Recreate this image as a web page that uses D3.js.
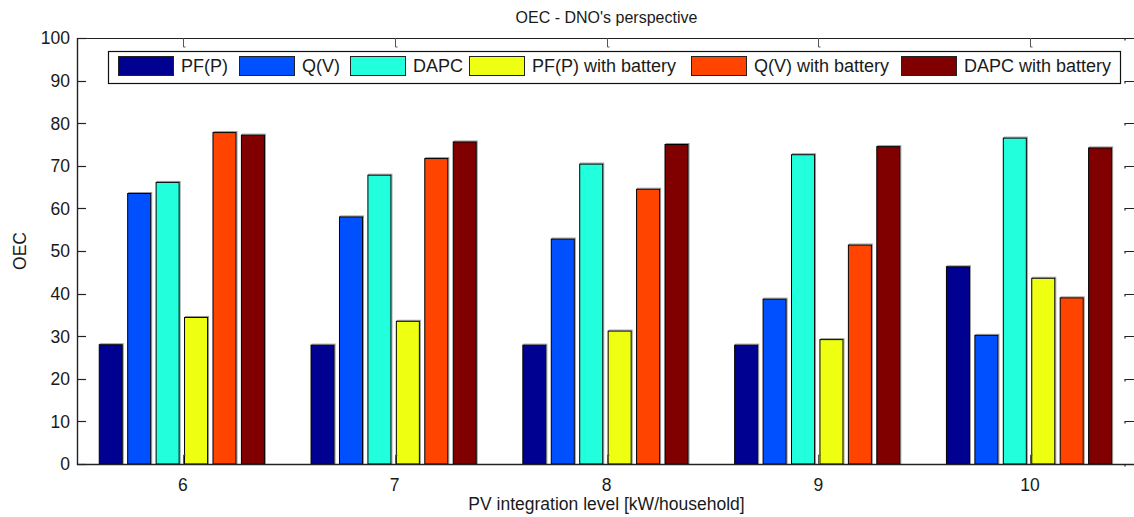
<!DOCTYPE html>
<html>
<head>
<meta charset="utf-8">
<script src="https://cdn.jsdelivr.net/npm/d3@7"></script>
<style>
  html, body { margin: 0; padding: 0; background: #fff; }
  svg { display: block; font-family: "Liberation Sans", Arial, sans-serif; }
</style>
</head>
<body>
<svg id="chart" width="1134" height="517"></svg>
<script>
// PV integration levels (kW/household)
const categories = [6, 7, 8, 9, 10];

// Series names and their OEC values per integration level
const seriesNames = ["PF(P)", "Q(V)", "DAPC", "PF(P) with battery", "Q(V) with battery", "DAPC with battery"];
const pfP        = [28.0, 27.9, 27.9, 27.9, 46.3];
const qV         = [63.5, 58.0, 52.8, 38.7, 30.2];
const dapc       = [66.1, 67.8, 70.4, 72.6, 76.5];
const pfPBatt    = [34.4, 33.5, 31.2, 29.2, 43.6];
const qVBatt     = [77.8, 71.7, 64.5, 51.4, 39.0];
const dapcBatt   = [77.2, 75.6, 75.0, 74.5, 74.2];
const seriesValues = [pfP, qV, dapc, pfPBatt, qVBatt, dapcBatt];
const seriesColors = ["#000091", "#0050ff", "#22ffdd", "#eeff11", "#ff4400", "#800000"];

const yTicks = [0, 10, 20, 30, 40, 50, 60, 70, 80, 90, 100];

const svg = d3.select("#chart");
const plot = { left: 77, right: 1136, top: 38, bottom: 464 };

const x = d3.scaleLinear().domain([5.5, 10.5]).range([plot.left, plot.right]);
const y = d3.scaleLinear().domain([0, 100]).range([plot.bottom, plot.top]);

const unit = x(1) - x(0);
const inner = d3.scaleBand()
  .domain(seriesNames)
  .range([-0.395 * unit, 0.385 * unit])
  .paddingInner(0.19)
  .paddingOuter(0);

const textColor = "#1a1a1a";

// Bars
const rows = [];
seriesNames.forEach((name, si) => {
  categories.forEach((c, ci) => {
    rows.push({ name, color: seriesColors[si], cat: c, value: seriesValues[si][ci] });
  });
});

const barG = svg.append("g");
// soft grey shading along the top and right edges
barG.selectAll("rect.shade").data(rows).enter().append("rect")
  .attr("class", "shade")
  .attr("x", d => x(d.cat) + inner(d.name) + 1)
  .attr("y", d => y(d.value) - 1)
  .attr("width", inner.bandwidth())
  .attr("height", d => y(0) - y(d.value) + 1)
  .attr("fill", "none")
  .attr("stroke", "#9a9a9a")
  .attr("stroke-width", 1);

barG.selectAll("rect.bar").data(rows).enter().append("rect")
  .attr("class", "bar")
  .attr("x", d => x(d.cat) + inner(d.name))
  .attr("y", d => y(d.value))
  .attr("width", inner.bandwidth())
  .attr("height", d => y(0) - y(d.value))
  .attr("fill", d => d.color)
  .attr("stroke", "#000")
  .attr("stroke-width", 1);

// Axes box
const axisG = svg.append("g").attr("stroke", "#222").attr("fill", "none");
axisG.append("line").attr("x1", plot.left).attr("x2", plot.right).attr("y1", plot.top + 0.5).attr("y2", plot.top + 0.5).attr("stroke-width", 1.2);
axisG.append("line").attr("x1", plot.left).attr("x2", plot.right).attr("y1", plot.bottom + 0.5).attr("y2", plot.bottom + 0.5).attr("stroke-width", 1.4);
axisG.append("line").attr("x1", plot.left + 0.5).attr("x2", plot.left + 0.5).attr("y1", plot.top).attr("y2", plot.bottom + 1).attr("stroke-width", 1.4);

const tickLen = 9;
// y ticks, inward on left and right
yTicks.forEach(t => {
  const yy = Math.round(y(t)) + 0.5;
  axisG.append("path").attr("d", `M${plot.left},${yy}H${plot.left + tickLen}`).attr("stroke-width", 1.2);
  axisG.append("path").attr("d", `M${plot.right - 11},${yy + 2}V${yy}H${plot.right}`).attr("stroke-width", 1.2);
});
// x ticks, inward on bottom and top
categories.forEach(c => {
  const xx = Math.round(x(c)) + 0.5;
  axisG.append("path").attr("d", `M${xx},${plot.bottom}V${plot.bottom - tickLen}h2`).attr("stroke", "#555").attr("stroke-width", 1);
  axisG.append("path").attr("d", `M${xx},${plot.top}V${plot.top + tickLen}h2`).attr("stroke", "#555").attr("stroke-width", 1);
});

// Tick labels
svg.append("g").selectAll("text").data(yTicks).enter().append("text")
  .attr("x", plot.left - 7)
  .attr("y", d => y(d))
  .attr("dy", "0.36em")
  .attr("text-anchor", "end")
  .attr("font-size", 17.5)
  .attr("fill", textColor)
  .text(d => d);

svg.append("g").selectAll("text").data(categories).enter().append("text")
  .attr("x", d => x(d))
  .attr("y", plot.bottom + 27)
  .attr("text-anchor", "middle")
  .attr("font-size", 17.5)
  .attr("fill", textColor)
  .text(d => d);

// Title and axis labels
svg.append("text")
  .attr("x", (plot.left + plot.right) / 2)
  .attr("y", 23)
  .attr("text-anchor", "middle")
  .attr("font-size", 16)
  .attr("fill", textColor)
  .text("OEC - DNO's perspective");

svg.append("text")
  .attr("x", (plot.left + plot.right) / 2)
  .attr("y", 510)
  .attr("text-anchor", "middle")
  .attr("font-size", 17.5)
  .attr("fill", textColor)
  .text("PV integration level [kW/household]");

svg.append("text")
  .attr("transform", `translate(26,${(plot.top + plot.bottom) / 2}) rotate(-90)`)
  .attr("text-anchor", "middle")
  .attr("font-size", 17.5)
  .attr("fill", textColor)
  .text("OEC");

// Legend
const legend = { x: 108, y: 51, w: 1012, h: 32 };
const legG = svg.append("g");
legG.append("rect")
  .attr("x", legend.x + 0.5).attr("y", legend.y + 0.5)
  .attr("width", legend.w).attr("height", legend.h)
  .attr("fill", "#fff").attr("stroke", "#111").attr("stroke-width", 1.2);

const legendX = [118, 239, 350, 469, 691, 901];
const items = legG.selectAll("g.item").data(seriesNames).enter().append("g")
  .attr("transform", (d, i) => `translate(${legendX[i]},${legend.y + 5})`);
items.append("rect")
  .attr("x", 0.5).attr("y", 0.5)
  .attr("width", 55).attr("height", 19)
  .attr("fill", (d, i) => seriesColors[i])
  .attr("stroke", "#222").attr("stroke-width", 1);
items.append("text")
  .attr("x", 63).attr("y", 10)
  .attr("dy", "0.36em")
  .attr("font-size", 18)
  .attr("fill", textColor)
  .text(d => d);
</script>
</body>
</html>
